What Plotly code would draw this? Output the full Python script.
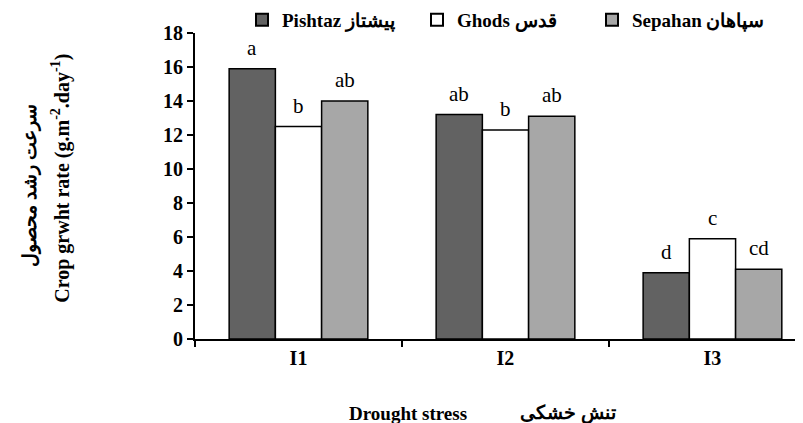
import plotly.graph_objects as go

categories = ["I1", "I2", "I3"]
pishtaz = [15.9, 13.2, 3.9]
ghods = [12.5, 12.3, 5.9]
sepahan = [14.0, 13.1, 4.1]
letters_pishtaz = ["a", "ab", "d"]
letters_ghods = ["b", "b", "c"]
letters_sepahan = ["ab", "ab", "cd"]
y_ticks = list(range(0, 20, 2))

SERIF = "Liberation Serif"
BARGAP = 0.33

series = [
    ("<b>Pishtaz پیشتاز</b>", pishtaz, "#626262", letters_pishtaz),
    ("<b>Ghods قدس</b>", ghods, "#ffffff", letters_ghods),
    ("<b>Sepahan سپاهان</b>", sepahan, "#a7a7a7", letters_sepahan),
]

fig = go.Figure()
for name, vals, col, _ in series:
    fig.add_trace(go.Bar(
        x=categories, y=vals, name=name,
        marker=dict(color=col, line=dict(color="black", width=1.5)),
    ))

# plot area in pixels
L, T, W, H = 187, 25, 616, 306.5
def px_to_paper(px, py):
    return (px - L) / W, 1 - (py - T) / H

# significance letters above each bar
w = (1 - BARGAP) / len(series)
annotations = []
for j, (_, vals, _, letters) in enumerate(series):
    for i, (v, lt) in enumerate(zip(vals, letters)):
        annotations.append(dict(
            x=i + (j - 1) * w, y=v, xref="x", yref="y", text=lt,
            showarrow=False, yanchor="bottom", yshift=7,
            font=dict(family=SERIF, size=21, color="black"),
        ))

# axis titles
titles = [
    ("<b>سرعت رشد محصول</b>", 22, 178, -90, 19),
    ("<b>Crop grwht rate (g.m<sup>-2</sup>.day<sup>-1</sup>)</b>", 53, 171, -90, 20),
    ("<b>Drought stress</b>", 400, 406, 0, 19),
    ("<b>تنش خشکی</b>", 560, 406, 0, 19),
]
for txt, px, py, ang, sz in titles:
    x, y = px_to_paper(px, py)
    annotations.append(dict(
        text=txt, x=x, y=y, xref="paper", yref="paper", xanchor="center",
        yanchor="middle", showarrow=False, textangle=ang,
        font=dict(family=SERIF, size=sz, color="black"),
    ))

fig.update_layout(
    width=803, height=423,
    margin=dict(l=L, r=0, t=T, b=423 - T - H, autoexpand=False),
    paper_bgcolor="white", plot_bgcolor="white",
    barmode="group", bargap=BARGAP, bargroupgap=0,
    font=dict(family=SERIF, size=19, color="black"),
    showlegend=True,
    legend=dict(
        orientation="h", x=px_to_paper(234, 0)[0], xanchor="left",
        y=px_to_paper(0, 12)[1], yanchor="middle", entrywidth=130, entrywidthmode="pixels",
        font=dict(family=SERIF, size=19, color="black"),
        bgcolor="rgba(0,0,0,0)", itemsizing="constant",
    ),
    xaxis=dict(
        type="category", range=[-0.5, 2.476], showline=True, linecolor="black",
        linewidth=2, ticks="outside", tickson="boundaries", ticklen=6,
        tickcolor="black", tickwidth=1.5, showgrid=False,
        tickfont=dict(family=SERIF, size=20, color="black"),
        tickprefix="<b>", ticksuffix="</b>",
    ),
    yaxis=dict(
        range=[0, 18], tickvals=y_ticks, ticktext=[f"<b>{t}</b>" for t in y_ticks],
        showline=True, linecolor="black", linewidth=2, ticks="outside",
        ticklen=6, tickcolor="black", tickwidth=1.5, showgrid=False, zeroline=False,
        tickfont=dict(family=SERIF, size=20, color="black"),
    ),
    annotations=annotations,
)

fig.write_html("out.html")
